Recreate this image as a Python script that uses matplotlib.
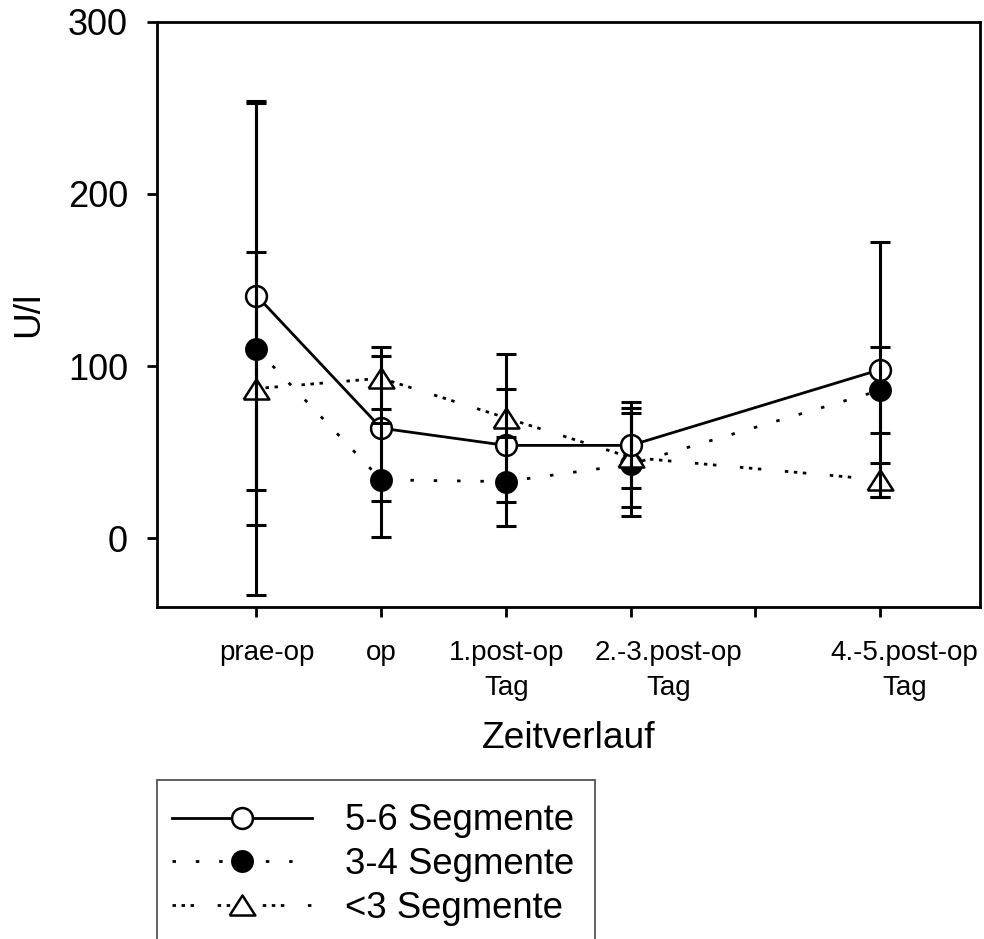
import matplotlib
matplotlib.use("Agg")
import matplotlib.pyplot as plt
from matplotlib.patches import Rectangle
from matplotlib.transforms import ScaledTranslation

plt.rcParams["font.family"] = ["Liberation Sans", "DejaVu Sans"]
plt.rcParams["lines.scale_dashes"] = False

# time points (tick 5 has no label in the original)
x_pos = [1, 2, 3, 4, 6]
tick_pos = [1, 2, 3, 4, 5, 6]
tick_labels = ["prae-op", "op", "1.post-op\nTag", "2.-3.post-op\nTag", "", "4.-5.post-op\nTag"]
# label shifts seen in the original (pixels to the right)
tick_shift_px = [10, 0, 1, 38, 0, 24]

# U/l, mean and error per group
seg56_mean = [141, 64, 54, 54, 98]
seg56_err = [113, 42, 33, 25, 74]
seg34_mean = [110, 34, 33, 43, 86]
seg34_err = [143, 33, 26, 30, 25]
seg3_mean = [87, 93, 70, 47, 34]
seg3_err = [79, 18, 37, 29, 10]

fig = plt.figure(figsize=(9.84, 9.39), dpi=100)
ax = fig.add_axes([156.7 / 984, 1 - 607.3 / 939, (980 - 156.7) / 984, (607.3 - 21.7) / 939])

tri = [(-1, -0.78), (1, -0.78), (0, 0.78), (-1, -0.78)]
lw = 2.0

# draw order: filled, triangle, open circle (open circle on top)
h34, = ax.plot(x_pos, seg34_mean, color="black", lw=lw, dashes=[2.5, 14.3],
               marker="o", ms=15, mfc="black", mec="black", mew=1.5, zorder=2)
h3, = ax.plot(x_pos, seg3_mean, color="black", lw=lw, dashes=[2.5, 4, 2.5, 4, 2.5, 17],
              marker=tri, ms=18.5, mfc="white", mec="black", mew=1.8, zorder=2)
h56, = ax.plot(x_pos, seg56_mean, color="black", lw=lw, ls="-",
               marker="o", ms=15, mfc="white", mec="black", mew=1.8, zorder=2)

for mean, err in [(seg34_mean, seg34_err), (seg3_mean, seg3_err), (seg56_mean, seg56_err)]:
    ax.errorbar(x_pos, mean, yerr=err, fmt="none", ecolor="black", elinewidth=2.2,
                capsize=7, capthick=2.2, zorder=3)

ax.set_xlim(0.2, 6.8)
ax.set_ylim(-40, 300)
ax.set_yticks([0, 100, 200, 300])
ax.set_xticks(tick_pos)
ax.set_xticklabels(tick_labels)

for sp in ax.spines.values():
    sp.set_linewidth(2.0)
ax.tick_params(axis="both", direction="out", length=7.2, width=2.0)
ax.tick_params(axis="y", labelsize=26, pad=13.5)
ax.tick_params(axis="x", labelsize=20, pad=16.5)

for lab, dx in zip(ax.get_xticklabels(), tick_shift_px):
    lab.set_linespacing(1.45)
    lab.set_transform(lab.get_transform() + ScaledTranslation(dx / 100, 0, fig.dpi_scale_trans))

ax.set_xlabel("Zeitverlauf", fontsize=26.7, labelpad=14.6)
ax.set_ylabel("U/l", fontsize=26.7, labelpad=15.8)

# legend box (bottom edge runs off the figure, as in the original)
fig.patches.append(Rectangle((156.7 / 984, -0.05), (595 - 156.7) / 984, 0.05 + 1 - 780 / 939,
                             transform=fig.transFigure, fill=False, lw=1.2, ec="#444444"))
fig.legend([h56, h34, h3], ["5-6 Segmente", "3-4 Segmente", "<3 Segmente"],
           loc="upper left", bbox_to_anchor=(171.7 / 984, 1 - 803.4 / 939),
           bbox_transform=fig.transFigure, borderaxespad=0, borderpad=0, fontsize=26.3,
           numpoints=1, handlelength=3.85, handletextpad=0.9, labelspacing=0.24,
           frameon=False)

fig.savefig("out.png", dpi=100)
